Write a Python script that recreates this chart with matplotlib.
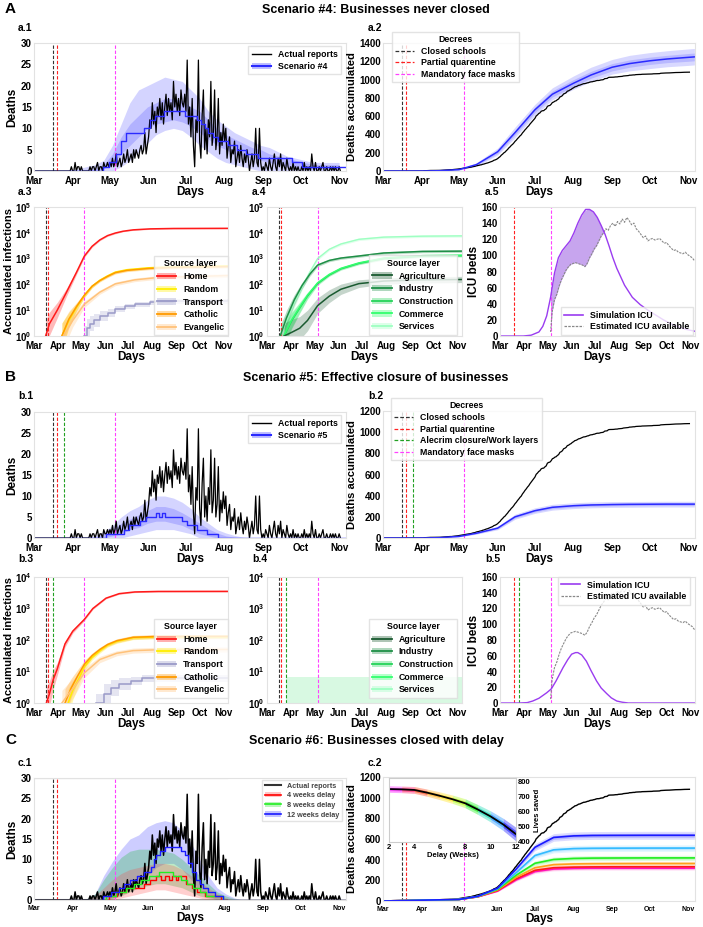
import numpy as np
import matplotlib.pyplot as plt
from matplotlib.lines import Line2D
from matplotlib.patches import Patch
from matplotlib.colors import LinearSegmentedColormap

plt.rcParams['font.family'] = ['Liberation Sans', 'DejaVu Sans']
plt.rcParams['font.weight'] = 'bold'
plt.rcParams['axes.labelweight'] = 'bold'
plt.rcParams['mathtext.default'] = 'regular'

# calendar: day 0 = 1 Mar 2020
month_days = [0, 31, 61, 92, 122, 153, 184, 214, 245]
month_labels = ['Mar', 'Apr', 'May', 'Jun', 'Jul', 'Aug', 'Sep', 'Oct', 'Nov']

# decrees (day numbers)
day_closed_schools = 15
day_partial_quarantine = 18.5
day_alecrim_closure = 24
day_face_masks = 65

# actual daily death reports
deaths_mar = [0] * 30 + [1]
deaths_apr = [0, 0, 2, 0, 1, 1, 0, 1, 0, 0, 0, 0, 0, 0, 1, 0, 1, 1, 0, 1,
              2, 0, 1, 1, 0, 2, 1, 1, 2, 1]
deaths_may = [2, 1, 3, 1, 2, 4, 1, 2, 3, 1, 2, 4, 2, 3, 5, 2, 3, 4, 2, 5,
              3, 5, 4, 3, 5, 6, 4, 5, 9, 4, 6]
deaths_jun = [8, 12, 10, 16, 11, 14, 9, 15, 13, 17, 12, 16, 11, 15, 18, 13, 17, 14, 16, 12,
              21, 15, 18, 14, 17, 13, 19, 16, 15, 18]
deaths_jul = [14, 26, 11, 15, 8, 17, 6, 1, 12, 9, 26, 7, 3, 13, 19, 5, 10, 4, 12, 8,
              21, 6, 9, 19, 5, 8, 17, 4, 9, 6, 11]
deaths_aug = [7, 10, 3, 6, 8, 2, 5, 4, 7, 1, 3, 5, 2, 6, 3, 1, 4, 2, 5, 3,
              0, 2, 4, 1, 3, 10, 2, 1, 10, 2, 0]
deaths_sep = [1, 0, 2, 1, 0, 3, 1, 0, 2, 4, 1, 0, 3, 1, 4, 0, 2, 1, 0, 3,
              1, 0, 1, 0, 2, 0, 1, 0, 1, 0]
deaths_oct = [0, 1, 0, 2, 0, 1, 0, 1, 0, 4, 1, 0, 2, 0, 0, 1, 0, 1, 2, 0,
              0, 1, 0, 0, 1, 0, 1, 0, 1, 0, 0]
deaths_nov = [1, 0]
actual_deaths = (deaths_mar + deaths_apr + deaths_may + deaths_jun + deaths_jul
                 + deaths_aug + deaths_sep + deaths_oct + deaths_nov)

# weekly grid for daily-death bands
week_days = list(range(0, 246, 7))

# scenario 4 daily deaths
sc4_step_days = [0, 55, 60, 66, 70, 74, 88, 93, 97, 104, 121, 131, 134, 137, 140, 144, 148, 156, 163, 170, 180, 207, 215, 250]
sc4_step_vals = [0, 1, 2, 4, 7, 9, 10, 12, 13, 14, 13, 12, 11, 10, 9, 8, 7, 6, 5, 4, 3, 2, 1, 1]
sc4_hi95 = [0.3, 0.3, 0.3, 0.3, 0.3, 0.5, 1, 1.5, 2.5, 6, 11, 16, 19, 20, 21, 22, 21.5, 21, 19, 17,
            14, 12, 10.5, 9, 8, 7, 6, 5.5, 4.5, 3.5, 3, 2.5, 2, 2, 2, 2]
sc4_hi50 = [0, 0, 0, 0, 0, 0, 0.3, 0.5, 1.5, 4, 8, 11, 13, 15, 16, 17, 17, 16.5, 15, 14,
            12, 10, 8.5, 7.5, 6.5, 5.5, 5, 4, 3.5, 3, 2.5, 2, 1.5, 1.5, 1.5, 1.5]
sc4_lo50 = [0, 0, 0, 0, 0, 0, 0, 0, 0.5, 1.5, 4, 6, 8, 10, 11, 11.5, 12, 11.5, 10.5, 9,
            7.5, 6, 5, 4, 3.5, 3, 2.5, 2, 1.5, 1, 1, 0.5, 0.5, 0.5, 0.5, 0.5]
sc4_lo95 = [0] * 10 + [1, 2.5, 4.5, 6.5, 8.5, 9.5, 10, 9.5, 8, 6, 4.5, 3, 2, 1.5, 1, 0.5] + [0] * 10

# scenario 5 daily deaths
sc5_step_days = [0, 58, 72, 76, 85, 90, 98, 100, 103, 105, 119, 123, 131, 139, 148, 250]
sc5_step_vals = [0, 1, 2, 3, 4, 5, 6, 5, 6, 5, 4, 3, 2, 1, 0, 0]
sc5_hi95 = [0.2] * 7 + [0.5, 1.5, 3, 5, 6.5, 7.5, 9, 10, 10, 9.5, 8.5, 7, 5, 3.5, 2, 1.2, 0.6, 0.2] + [0] * 11
sc5_hi50 = [0] * 7 + [0.2, 1, 2, 3.5, 4.5, 5.5, 6.5, 7.5, 7.5, 7, 6, 4.8, 3.5, 2.2, 1.2, 0.5, 0.2] + [0] * 12
sc5_lo50 = [0] * 9 + [0.5, 1, 2, 2.5, 3.5, 4, 4, 3.5, 3, 2, 1, 0.5] + [0] * 15
sc5_lo95 = [0] * 11 + [0.5, 1, 1.5, 2, 2, 2, 1.5, 1] + [0] * 17

# accumulated deaths
cum_days = [0, 31, 45, 61, 75, 92, 106, 122, 136, 153, 167, 184, 198, 214, 228, 245, 250]
sc4_cum_med = [0, 0, 3, 15, 70, 210, 420, 670, 840, 960, 1050, 1135, 1175, 1205, 1225, 1243, 1248]
sc4_cum_hi95 = [0, 0, 5, 22, 90, 250, 480, 730, 910, 1040, 1135, 1220, 1265, 1295, 1315, 1335, 1340]
sc4_cum_lo95 = [0, 0, 1, 9, 52, 175, 365, 610, 780, 895, 980, 1060, 1095, 1120, 1140, 1155, 1160]
sc4_cum_hi50 = [0, 0, 4, 18, 78, 228, 445, 700, 875, 1000, 1090, 1175, 1215, 1245, 1265, 1285, 1290]
sc4_cum_lo50 = [0, 0, 2, 12, 62, 192, 395, 640, 810, 925, 1015, 1095, 1135, 1165, 1185, 1200, 1205]
sc5_cum_med = [0, 0, 3, 15, 45, 93, 200, 258, 290, 305, 312, 316, 318, 319, 320, 320, 320]
sc5_cum_hi95 = [0, 0, 5, 20, 55, 110, 225, 285, 318, 333, 340, 344, 345, 346, 347, 347, 347]
sc5_cum_lo95 = [0, 0, 1, 10, 36, 78, 177, 233, 263, 278, 285, 289, 290, 292, 293, 293, 293]
sc5_cum_hi50 = [0, 0, 4, 17, 50, 101, 212, 271, 303, 318, 325, 329, 331, 332, 333, 333, 333]
sc5_cum_lo50 = [0, 0, 2, 13, 40, 86, 189, 246, 277, 292, 299, 303, 305, 306, 307, 307, 307]

# infections by source layer, scenario 4 (spread in log10 units)
home4_days = [15, 20, 30, 42, 55, 65, 75, 85, 95, 105, 115, 128, 150, 180, 250]
home4_vals = [1, 3, 10, 50, 300, 1250, 3000, 5300, 7800, 9800, 11500, 13000, 14200, 14700, 14900]
home4_spread = [0.6, 0.45, 0.3, 0.15, 0.08, 0.05, 0.04, 0.03, 0.03, 0.03, 0.02, 0.02, 0.02, 0.02, 0.02]
random4_days = [36, 45, 55, 65, 75, 85, 95, 105, 120, 148, 180, 250]
random4_vals = [1, 4, 13, 37, 85, 145, 215, 300, 370, 440, 480, 520]
catholic4_vals = [1, 4.5, 14, 38, 85, 140, 205, 285, 350, 415, 455, 490]
church4_spread = [0.5, 0.3, 0.15, 0.08, 0.06, 0.05, 0.05, 0.05, 0.05, 0.05, 0.05, 0.05]
evangelic4_days = [38, 50, 65, 85, 105, 130, 160, 250]
evangelic4_vals = [1, 4, 17, 50, 105, 150, 185, 220]
evangelic4_spread = [0.5, 0.25, 0.12, 0.08, 0.07, 0.07, 0.07, 0.07]
transport4_days = [65, 68, 72, 78, 85, 95, 105, 118, 130, 150, 180, 250]
transport4_vals = [1, 2, 3, 4, 6, 8, 11, 14, 17, 20, 22, 24]
transport4_spread = [0.4, 0.35, 0.3, 0.25, 0.2, 0.15, 0.12, 0.1, 0.1, 0.1, 0.1, 0.1]

services4_days = [17, 25, 35, 45, 55, 65, 80, 95, 118, 150, 200, 250]
services4_vals = [1, 4, 20, 80, 300, 1000, 2300, 3700, 5600, 6800, 7400, 7600]
industry4_vals = [1, 5, 25, 90, 250, 560, 850, 1050, 1260, 1650, 1900, 1950]
work4_spread = [0.4, 0.3, 0.2, 0.12, 0.08, 0.06, 0.05, 0.05, 0.05, 0.05, 0.05, 0.05]
construction4_days = [22, 32, 42, 52, 65, 80, 95, 118, 150, 200, 250]
construction4_vals = [1, 4, 12, 35, 107, 230, 400, 650, 1000, 1250, 1300]
commerce4_vals = [1.1, 4.4, 13, 38, 115, 245, 420, 680, 1050, 1300, 1350]
agriculture4_vals = [1, 1.4, 2, 4, 15, 35, 65, 107, 135, 150, 155]
agriculture4_spread = [0.5, 0.5, 0.45, 0.4, 0.3, 0.25, 0.2, 0.15, 0.12, 0.12, 0.12]
constr4_spread = [0.4, 0.3, 0.2, 0.12, 0.07, 0.05, 0.05, 0.05, 0.05, 0.05, 0.05]

# infections by source layer, scenario 5
home5_days = [16, 20, 25, 30, 40, 50, 65, 76, 93, 110, 130, 160, 250]
home5_vals = [1, 2, 5.7, 12, 75, 190, 450, 1000, 2130, 2960, 3350, 3480, 3500]
home5_spread = [0.5, 0.4, 0.3, 0.2, 0.1, 0.06, 0.04, 0.03, 0.02, 0.02, 0.02, 0.02, 0.02]
random5_days = [44, 50, 58, 65, 75, 85, 95, 107, 128, 160, 250]
random5_vals = [1, 2.5, 6, 14, 28, 45, 68, 90, 118, 125, 126]
catholic5_days = [40, 48, 56, 65, 75, 85, 95, 107, 128, 160, 250]
catholic5_vals = [1, 3, 7, 17, 32, 50, 72, 95, 122, 130, 130]
church5_spread = [0.45, 0.3, 0.2, 0.12, 0.08, 0.07, 0.06, 0.06, 0.06, 0.06, 0.06]
evangelic5_days = [36, 45, 55, 65, 85, 107, 128, 160, 250]
evangelic5_vals = [1, 2, 4, 9, 24, 38, 46, 49, 50]
evangelic5_spread = [0.4, 0.35, 0.25, 0.15, 0.1, 0.08, 0.08, 0.08, 0.08]
transport5_days = [80, 90, 100, 110, 125, 140, 250]
transport5_vals = [1, 2, 3, 4, 5, 6, 6]
transport5_spread = [0.3, 0.3, 0.25, 0.2, 0.12, 0.1, 0.1]
services5_band_days = [25, 250]
services5_band_hi = [6.5, 6.5]

# ICU
icu4_days = [0, 30, 40, 50, 55, 60, 65, 70, 75, 80, 85, 90, 95, 100, 105, 110, 115, 120, 125, 130,
             135, 140, 145, 150, 160, 170, 180, 190, 200, 210, 220, 230, 240, 250]
icu4_vals = [0, 0, 1, 5, 12, 25, 48, 78, 97, 106, 112, 118, 128, 140, 150, 157, 157, 154, 147, 137,
             126, 112, 97, 84, 63, 48, 39, 32, 26, 20, 15, 11, 8, 6]
icu5_days = [0, 25, 35, 42, 50, 55, 60, 66, 72, 81, 87, 92, 97, 100, 105, 111, 117, 124, 130, 137,
             143, 150, 157, 165, 250]
icu5_vals = [0, 0, 0.5, 2.5, 6, 9.5, 13, 18, 28, 45, 55, 62, 64, 64, 61, 53, 41, 28, 19, 12,
             6.5, 2.5, 1, 0, 0]
icu_avail_days = [65, 67] + list(range(70, 251, 3))
icu_avail = [5, 30, 45, 52, 62, 70, 76, 82, 86, 89, 90, 91, 90, 89, 88, 86, 90, 97, 102, 108,
             112, 118, 124, 128, 133, 131, 137, 140, 136, 142, 139, 145, 141, 147, 143, 138, 140, 133, 130, 126,
             122, 124, 118, 120, 121, 119, 120, 121, 118, 115, 116, 112, 109, 106, 107, 104, 103, 102, 104, 101,
             99, 97, 93]

# scenario 6: daily deaths for closure delays
c1_12w_days = [0, 55, 62, 68, 72, 77, 83, 88, 94, 96, 98, 101, 105, 118, 121, 124, 127, 130, 133, 136, 140, 145, 152, 250]
c1_12w_vals = [0, 1, 2, 3, 4, 5, 6, 7, 8, 10, 11, 12, 13, 12, 11, 9, 7, 5, 4, 3, 2, 1, 0, 0]
c1_8w_days = [0, 58, 66, 74, 80, 86, 92, 100, 112, 118, 123, 128, 133, 138, 144, 152, 250]
c1_8w_vals = [0, 1, 2, 3, 4, 5, 6, 7, 6, 5, 4, 3, 2, 1, 1, 0, 0]
c1_4w_days = [0, 60, 67, 74, 88, 93, 98, 102, 105, 108, 111, 114, 116, 122, 127, 131, 137, 143, 150, 250]
c1_4w_vals = [0, 1, 2, 3, 4, 5, 6, 5, 6, 5, 6, 5, 6, 4, 3, 2, 1, 1, 0, 0]
c1_band_days = list(range(42, 169, 7))
c1_12w_hi = [0.3, 1.5, 6, 9.5, 12.5, 15, 16, 18, 19, 19.5, 19, 17, 14, 10, 6, 3, 1.5, 0.5, 0]
c1_12w_lo = [0, 0, 0, 0.5, 1.5, 3, 4.5, 6, 8, 9, 9, 7.5, 5, 2.5, 1, 0, 0, 0, 0]
c1_8w_hi = [0.3, 1.5, 5, 8, 10.5, 12, 12.5, 12.5, 12.5, 12, 11.5, 10, 8, 6, 4, 2, 1, 0.3, 0]
c1_8w_lo = [0, 0, 0, 0.3, 1, 2, 3, 3.5, 4, 4, 3.5, 3, 2, 1, 0.5, 0, 0, 0, 0]
c1_4w_hi = [0.2, 1, 3, 5, 6.5, 7.5, 8, 8.5, 9, 9, 8.5, 7.5, 6, 4.5, 3, 1.5, 0.5, 0, 0]
c1_4w_lo = [0, 0, 0, 0, 0.5, 1, 1.5, 2, 2.5, 2.5, 2, 1.5, 1, 0.5, 0, 0, 0, 0, 0]

# scenario 6: accumulated deaths per delay
c2_days = [0, 61, 76, 92, 107, 122, 137, 153, 168, 184, 214, 250]
c2_12w = [0, 15, 45, 125, 310, 520, 615, 630, 634, 635, 636, 636]
c2_10w = [0, 15, 44, 118, 275, 440, 495, 507, 510, 511, 512, 512]
c2_8w = [0, 15, 43, 112, 250, 365, 402, 412, 415, 416, 417, 417]
c2_6w = [0, 15, 42, 106, 230, 322, 352, 359, 361, 362, 363, 363]
c2_4w = [0, 15, 41, 101, 215, 297, 322, 328, 330, 331, 331, 331]
c2_2w = [0, 15, 40, 96, 205, 285, 310, 316, 318, 318, 318, 318]
c2_rel_spread = [0, 0.15, 0.1, 0.08, 0.07, 0.065, 0.06, 0.06, 0.06, 0.06, 0.06, 0.06]

# inset: lives saved vs delay
delay_weeks = [2, 3, 4, 5, 6, 7, 8, 9, 10, 11, 12]
lives_saved = [752, 750, 746, 728, 707, 684, 657, 615, 569, 515, 450]
lives_spread = [22, 22, 23, 24, 26, 28, 30, 33, 37, 41, 46]

# ---------------------------------------------------------------
W, H = 703, 927
fig = plt.figure(figsize=(W / 100, H / 100), dpi=100)

BLUE = '#2a2aff'
C_SCHOOL, C_QUAR, C_ALEC, C_MASK = '#333333', '#ff2020', '#22a022', '#ff40ff'
DASH = (0, (3, 1.6))
TICK_FS = 7
LABEL_FS = 8
LEG_FS = 6.3
SUB_FS = 7.5


def panel_axes(l, t, r, b):
    return fig.add_axes([l / W, 1 - b / H, (r - l) / W, (b - t) / H])


def sub_label(x, y, s):
    fig.text(x / W, 1 - y / H, s, fontsize=SUB_FS, weight='bold', va='center')


def date_axis(ax, fs=TICK_FS, xfs=None):
    ax.set_xlim(0, 250.5)
    ax.set_xticks(month_days)
    ax.set_xticklabels(month_labels)
    ax.tick_params(which='both', length=0, labelsize=fs, pad=1.5)
    ax.tick_params(axis='x', pad=3.8)
    if xfs:
        ax.tick_params(axis='x', labelsize=xfs)
    for s in ax.spines.values():
        s.set_color('#e2e2e2')
        s.set_linewidth(0.8)
    ax.set_xlabel('Days', fontsize=LABEL_FS + 0.5, labelpad=0)


def decree_lines(ax, which):
    table = {'s': (day_closed_schools, C_SCHOOL), 'q': (day_partial_quarantine, C_QUAR),
             'a': (day_alecrim_closure, C_ALEC), 'm': (day_face_masks, C_MASK)}
    for k in which:
        d, c = table[k]
        ax.axvline(d, color=c, ls=DASH, lw=0.8, zorder=1)


def decree_legend(ax, with_alecrim, anchor):
    hs = [Line2D([], [], color=C_SCHOOL, ls=DASH, lw=0.9),
          Line2D([], [], color=C_QUAR, ls=DASH, lw=0.9)]
    ls = ['Closed schools', 'Partial quarentine']
    if with_alecrim:
        hs.append(Line2D([], [], color=C_ALEC, ls=DASH, lw=0.9))
        ls.append('Alecrim closure/Work layers')
    hs.append(Line2D([], [], color=C_MASK, ls=DASH, lw=0.9))
    ls.append('Mandatory face masks')
    leg = ax.legend(hs, ls, title='Decrees', loc='upper left', bbox_to_anchor=anchor,
                    fontsize=LEG_FS, title_fontsize=LEG_FS, fancybox=False, edgecolor='#dddddd',
                    borderaxespad=0, handlelength=2.2, labelspacing=0.3, borderpad=0.35)
    leg.get_title().set_fontweight('bold')


def daily_panel(ax, sdays, svals, hi95, hi50, lo50, lo95, label):
    ax.fill_between(week_days, lo95, hi95, color=BLUE, alpha=0.2, lw=0)
    ax.fill_between(week_days, lo50, hi50, color=BLUE, alpha=0.2, lw=0)
    ax.plot(range(len(actual_deaths)), actual_deaths, color='black', lw=0.9)
    ax.step(sdays, svals, where='post', color=BLUE, lw=1.0)
    ax.set_ylim(0, 30)
    ax.set_yticks(range(0, 31, 5))
    ax.set_ylabel('Deaths', fontsize=LABEL_FS + 0.5, labelpad=2)
    hs = [Line2D([], [], color='black', lw=1),
          (Patch(color=BLUE, alpha=0.3, lw=0), Line2D([], [], color=BLUE, lw=1.5))]
    ax.legend(hs, ['Actual reports', label], loc='upper right', bbox_to_anchor=(0.985, 0.975),
              fontsize=LEG_FS, fancybox=False, edgecolor='#dddddd', borderaxespad=0,
              handlelength=2.2, labelspacing=0.35)


def cum_panel(ax, med, hi95, lo95, hi50, lo50, top):
    ax.fill_between(cum_days, lo95, hi95, color=BLUE, alpha=0.18, lw=0)
    ax.fill_between(cum_days, lo50, hi50, color=BLUE, alpha=0.18, lw=0)
    ax.plot(range(len(actual_deaths)), np.cumsum(actual_deaths), color='black', lw=0.9)
    ax.plot(cum_days, med, color=BLUE, lw=1.1)
    ax.set_ylim(0, top)
    ax.set_yticks(range(0, top + 1, 200))
    ax.set_ylabel('Deaths accumulated', fontsize=LABEL_FS, labelpad=2)


def layer(ax, days, vals, spread, color, alpha=0.3, lw=1.1, step=False):
    d = np.array(days, dtype=float)
    v = np.array(vals, dtype=float)
    f = 10 ** np.array(spread)
    ax.fill_between(d, v / f, v * f, color=color, alpha=alpha, lw=0, step='post' if step else None)
    ax.plot(d, v, color=color, lw=lw, drawstyle='steps-post' if step else 'default')


def log_axis(ax, top, label=True):
    ax.set_yscale('log')
    ax.set_ylim(1, top)
    if label:
        ax.set_ylabel('Accumulated infections', fontsize=LABEL_FS, labelpad=1)


def layer_legend(ax, names, colors, anchor):
    hs = [(Patch(color=c, alpha=0.35, lw=0), Line2D([], [], color=c, lw=1.3)) for c in colors]
    leg = ax.legend(hs, names, title='Source layer', loc='lower right', bbox_to_anchor=anchor,
                    fontsize=LEG_FS, title_fontsize=LEG_FS, fancybox=False, edgecolor='#dddddd',
                    borderaxespad=0, handlelength=2.2, labelspacing=0.42, borderpad=0.4)
    leg.get_title().set_fontweight('bold')


def icu_panel(ax, days, vals, legend_loc, anchor, fill):
    ax.plot(icu_avail_days, icu_avail, color='#888888', ls=(0, (2, 1)), lw=0.8)
    ax.plot(days, vals, color='#9a3cf0', lw=1.0)
    if fill:
        sim_on_avail = np.interp(icu_avail_days, days, vals)
        ax.fill_between(icu_avail_days, icu_avail, sim_on_avail, where=sim_on_avail > np.array(icu_avail),
                        color='#9a5ce0', alpha=0.55, lw=0, interpolate=True)
    ax.set_ylim(0, 160)
    ax.set_yticks(range(0, 161, 20))
    ax.set_ylabel('ICU beds', fontsize=LABEL_FS + 0.5, labelpad=1)
    hs = [Line2D([], [], color='#9a3cf0', lw=1.2), Line2D([], [], color='#888888', ls=(0, (2, 1)), lw=0.9)]
    ax.legend(hs, ['Simulation ICU', 'Estimated ICU available'], loc=legend_loc, bbox_to_anchor=anchor,
              fontsize=LEG_FS, fancybox=False, edgecolor='#dddddd', borderaxespad=0,
              handlelength=2.2, labelspacing=0.3)


src_names = ['Home', 'Random', 'Transport', 'Catholic', 'Evangelic']
src_colors = ['#ff1a1a', '#ffee00', '#9a9ac8', '#ff9a00', '#ffc27a']
work_names = ['Agriculture', 'Industry', 'Construction', 'Commerce', 'Services']
work_colors = ['#1a5a30', '#1f8f47', '#26d45a', '#33ff6e', '#9effc2']

# ---------------- A ----------------
fig.text(5 / W, 1 - 9 / H, 'A', fontsize=11, weight='bold', va='center')
fig.text(376 / W, 1 - 10 / H, 'Scenario #4: Businesses never closed', fontsize=9,
         weight='bold', ha='center', va='center')

ax = panel_axes(34, 43, 346, 171)
daily_panel(ax, sc4_step_days, sc4_step_vals, sc4_hi95, sc4_hi50, sc4_lo50, sc4_lo95, 'Scenario #4')
decree_lines(ax, 'sqm')
date_axis(ax)
sub_label(18, 28, 'a.1')

ax = panel_axes(383, 43, 695, 171)
cum_panel(ax, sc4_cum_med, sc4_cum_hi95, sc4_cum_lo95, sc4_cum_hi50, sc4_cum_lo50, 1400)
decree_lines(ax, 'sqm')
date_axis(ax)
decree_legend(ax, False, (0.029, 1.086))
sub_label(368, 28, 'a.2')

ax = panel_axes(34, 207, 228, 336)
layer(ax, home4_days, home4_vals, home4_spread, src_colors[0])
layer(ax, random4_days, random4_vals, church4_spread, src_colors[1])
layer(ax, transport4_days, transport4_vals, transport4_spread, src_colors[2], alpha=0.25, step=True)
layer(ax, random4_days, catholic4_vals, church4_spread, src_colors[3])
layer(ax, evangelic4_days, evangelic4_vals, evangelic4_spread, src_colors[4])
decree_lines(ax, 'sqm')
log_axis(ax, 1e5)
date_axis(ax)
layer_legend(ax, src_names, src_colors, (1.0, 0.005))
sub_label(18, 192, 'a.3')

ax = panel_axes(267, 207, 462, 336)
layer(ax, services4_days, services4_vals, work4_spread, work_colors[4], lw=1.0)
layer(ax, services4_days, industry4_vals, work4_spread, work_colors[1])
layer(ax, construction4_days, construction4_vals, constr4_spread, work_colors[2])
layer(ax, construction4_days, commerce4_vals, constr4_spread, work_colors[3])
layer(ax, construction4_days, agriculture4_vals, agriculture4_spread, work_colors[0], alpha=0.25)
decree_lines(ax, 'sqm')
log_axis(ax, 1e5, label=False)
date_axis(ax)
layer_legend(ax, work_names, work_colors, (0.975, 0.01))
sub_label(252, 192, 'a.4')

ax = panel_axes(500, 207, 695, 336)
icu_panel(ax, icu4_days, icu4_vals, 'lower right', (0.99, 0.01), True)
decree_lines(ax, 'qm')
date_axis(ax)
sub_label(485, 192, 'a.5')

# ---------------- B ----------------
fig.text(5 / W, 1 - 377 / H, 'B', fontsize=11, weight='bold', va='center')
fig.text(376 / W, 1 - 378 / H, 'Scenario #5: Effective closure of businesses', fontsize=9,
         weight='bold', ha='center', va='center')

ax = panel_axes(34, 412, 346, 538)
daily_panel(ax, sc5_step_days, sc5_step_vals, sc5_hi95, sc5_hi50, sc5_lo50, sc5_lo95, 'Scenario #5')
decree_lines(ax, 'sqam')
date_axis(ax)
sub_label(18, 396, 'b.1')

ax = panel_axes(383, 411, 695, 538)
cum_panel(ax, sc5_cum_med, sc5_cum_hi95, sc5_cum_lo95, sc5_cum_hi50, sc5_cum_lo50, 1200)
decree_lines(ax, 'sqam')
date_axis(ax)
decree_legend(ax, True, (0.026, 1.10))
sub_label(368, 396, 'b.2')

ax = panel_axes(34, 577, 228, 703)
layer(ax, home5_days, home5_vals, home5_spread, src_colors[0])
layer(ax, random5_days, random5_vals, church5_spread, src_colors[1])
layer(ax, transport5_days, transport5_vals, transport5_spread, src_colors[2], alpha=0.25, step=True)
layer(ax, catholic5_days, catholic5_vals, church5_spread, src_colors[3])
layer(ax, evangelic5_days, evangelic5_vals, evangelic5_spread, src_colors[4])
decree_lines(ax, 'sqam')
log_axis(ax, 1e4)
date_axis(ax)
layer_legend(ax, src_names, src_colors, (1.0, 0.04))
sub_label(18, 559, 'b.3')

ax = panel_axes(267, 577, 462, 703)
ax.fill_between(services5_band_days, 1, services5_band_hi, color='#bff5cf', alpha=0.6, lw=0)
decree_lines(ax, 'sqam')
log_axis(ax, 1e4, label=False)
date_axis(ax)
layer_legend(ax, work_names, work_colors, (0.975, 0.04))
sub_label(252, 559, 'b.4')

ax = panel_axes(500, 577, 695, 703)
icu_panel(ax, icu5_days, icu5_vals, 'upper right', (0.975, 1.0), False)
decree_lines(ax, 'qam')
date_axis(ax)
sub_label(485, 559, 'b.5')

# ---------------- C ----------------
fig.text(5 / W, 1 - 740 / H, 'C', fontsize=11, weight='bold', va='center')
fig.text(376 / W, 1 - 741 / H, 'Scenario #6: Businesses closed with delay', fontsize=9,
         weight='bold', ha='center', va='center')

ax = panel_axes(34, 778, 346, 900)
ax.fill_between(c1_band_days, c1_12w_lo, c1_12w_hi, color='#3a3aff', alpha=0.25, lw=0)
ax.fill_between(c1_band_days, c1_8w_lo, c1_8w_hi, color='#22bb44', alpha=0.3, lw=0)
ax.fill_between(c1_band_days, c1_4w_lo, c1_4w_hi, color='#ff4040', alpha=0.25, lw=0)
ax.plot(range(len(actual_deaths)), actual_deaths, color='black', lw=1.1)
ax.step(c1_4w_days, c1_4w_vals, where='post', color='#ff0000', lw=1.0)
ax.step(c1_8w_days, c1_8w_vals, where='post', color='#22ee22', lw=1.0)
ax.step(c1_12w_days, c1_12w_vals, where='post', color='#1a1aff', lw=1.0)
ax.axhline(30, xmin=0, xmax=0.62, color='#aaaaaa', lw=1.5)
ax.axhline(0, xmin=0, xmax=0.62, color='#999999', lw=1.5, zorder=0)
decree_lines(ax, 'sqm')
ax.set_ylim(0, 30)
ax.set_yticks(range(0, 31, 5))
ax.set_ylabel('Deaths', fontsize=LABEL_FS + 0.5, labelpad=2)
date_axis(ax, xfs=5)
hs = [Line2D([], [], color='#333333', lw=1.5),
      (Patch(color='#ff4040', alpha=0.3, lw=0), Line2D([], [], color='#ff0000', lw=1.2)),
      (Patch(color='#22dd22', alpha=0.3, lw=0), Line2D([], [], color='#22ee22', lw=1.2)),
      (Patch(color='#3a3aff', alpha=0.3, lw=0), Line2D([], [], color='#1a1aff', lw=1.2))]
ax.legend(hs, ['Actual reports', '4 weeks delay', '8 weeks delay', '12 weeks delay'],
          loc='upper right', bbox_to_anchor=(0.987, 0.985), fontsize=5.2, fancybox=False,
          edgecolor='#dddddd', borderaxespad=0, handlelength=2.2, labelspacing=0.35,
          labelcolor='#444444')
sub_label(18, 763, 'c.1')

ax = panel_axes(383, 777, 695, 901)
c2_series = [c2_2w, c2_4w, c2_6w, c2_8w, c2_10w, c2_12w]
c2_colors = ['#ff10c0', '#ff1a1a', '#ffa01a', '#22ee22', '#33bbff', '#1a1aff']
spread = np.array(c2_rel_spread)
for vals, col in zip(c2_series, c2_colors):
    v = np.array(vals, dtype=float)
    ax.fill_between(c2_days, v * (1 - spread), v * (1 + spread), color=col, alpha=0.15, lw=0)
    ax.fill_between(c2_days, v * (1 - spread / 2), v * (1 + spread / 2), color=col, alpha=0.2, lw=0)
ax.plot(range(len(actual_deaths)), np.cumsum(actual_deaths), color='black', lw=1.0)
for vals, col in zip(c2_series, c2_colors):
    ax.plot(c2_days, vals, color=col, lw=1.2)
decree_lines(ax, 'sqm')
ax.set_ylim(0, 1200)
ax.set_yticks(range(0, 1201, 200))
ax.set_ylabel('Deaths accumulated', fontsize=LABEL_FS, labelpad=2)
date_axis(ax, xfs=5)
sub_label(368, 763, 'c.2')

ins = panel_axes(389, 778, 516, 842)
rainbow = LinearSegmentedColormap.from_list(
    'delay', ['#ff00ff', '#ff0000', '#ffa500', '#ffff00', '#00ee00', '#00ccff', '#0000ff'])
lw_arr = np.array(lives_saved, dtype=float)
sp_arr = np.array(lives_spread, dtype=float)
n = len(delay_weeks)
for i in range(n - 1):
    col = rainbow(i / (n - 2))
    seg = slice(i, i + 2)
    ins.fill_between(delay_weeks[seg], (lw_arr - sp_arr)[seg], (lw_arr + sp_arr)[seg],
                     color=col, alpha=0.35, lw=0)
    ins.fill_between(delay_weeks[seg], (lw_arr - sp_arr / 2)[seg], (lw_arr + sp_arr / 2)[seg],
                     color=col, alpha=0.5, lw=0)
ins.plot(delay_weeks, lives_saved, color='black', lw=1.3)
ins.set_xlim(2, 12)
ins.set_ylim(398, 826)
ins.set_xticks([2, 4, 6, 8, 10, 12])
ins.set_yticks([400, 500, 600, 700, 800])
ins.yaxis.tick_right()
ins.yaxis.set_label_position('right')
ins.tick_params(length=0, labelsize=5.5, pad=1.5)
ins.set_xlabel('Delay (Weeks)', fontsize=5.5, labelpad=1)
ins.set_ylabel('Lives saved', fontsize=5.5, labelpad=2)
for s in ins.spines.values():
    s.set_color('#cccccc')
    s.set_linewidth(0.8)

fig.savefig('out.png', dpi=100)
